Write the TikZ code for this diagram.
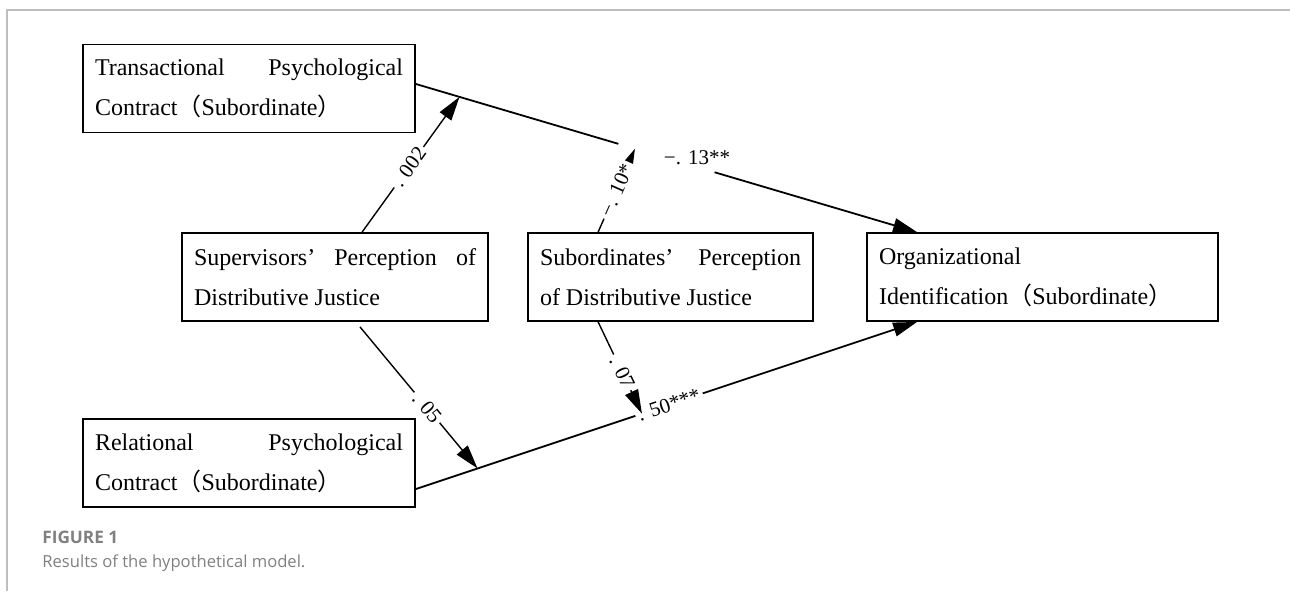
\documentclass[tikz,border=0pt]{standalone}
\usepackage{fontspec}
\setmainfont{Liberation Serif}
\newfontfamily\cjk{Noto Sans CJK SC}
\newfontfamily\capfont{Open Sans}
\usetikzlibrary{arrows.meta}
\usetikzlibrary{calc}
\definecolor{framegray}{RGB}{190,190,190}
\definecolor{capgray}{RGB}{128,128,128}
\newcommand{\zlp}{{\cjk （}}
\newcommand{\zrp}{{\cjk ）}}
\tikzset{var/.style = {draw, line width = 0.9pt, text width = #1, align = justify, inner xsep = 6pt, inner ysep = 0, minimum height = 44pt, font = {\fontsize{12}{20}\selectfont\tolerance = 10000\hyphenpenalty = 10000}}}
\tikzset{link/.style = {line width = 0.9pt, -{Triangle[length = 12pt, width = 7pt]}}}
\tikzset{modr/.style = {line width = 0.7pt, -{Triangle[length = 12pt, width = 7pt]}}}
\tikzset{coef/.style = {fill = white, inner sep = 1.5pt, font = \fontsize{10.5}{12}\selectfont}}

\begin{document}
\begin{tikzpicture}[x = 0.5pt, y = -0.5pt]
      \useasboundingbox (0, 0) rectangle (1290, 591);
      \draw [framegray, line width = 0.6pt] (7, 591) -- (7, 10) -- (1290, 10);

      \node [var = 154pt] (trans) at (249, 88.5) {Transactional Psychological\linebreak Contract\zlp Subordinate\zrp};
      \node [var = 141pt] (sup) at (335, 277) {Supervisors’ Perception of\linebreak Distributive Justice};
      \node [var = 130.5pt] (sub) at (670.5, 277) {Subordinates’ Perception\linebreak of Distributive Justice};
      \node [var = 163.5pt] (org) at (1042.5, 277) {Organizational\\Identification\zlp Subordinate\zrp};
      \node [var = 154pt] (rel) at (249, 463) {Relational Psychological\linebreak Contract\zlp Subordinate\zrp};

      % main paths
      \coordinate (tA) at ($(trans.east) + (0, -4.5)$);
      \coordinate (tB) at ($(org.north west) + (51, 0)$);
      \coordinate (rA) at ($(rel.east) + (0, 26)$);
      \coordinate (rB) at ($(org.south west) + (51, 0)$);
      \coordinate (gap1) at ($(tA)!0.404!(tB)$);
      \coordinate (gap2) at ($(tA)!0.596!(tB)$);
      \draw [line width = 0.9pt] (tA) -- (gap1);
      \draw [link] (gap2) -- (tB);
      \node [coef] (c13) at (697, 158) {−. 13**};
      \draw [link] (rA) -- node [coef, sloped, pos = 0.505] (c50) {. 50***} (rB);

      % moderating paths
      \coordinate (m002) at ($(tA)!0.087!(tB)$);
      \coordinate (m10) at ($(tA)!0.437!(tB)$);
      \coordinate (m05) at ($(rA)!0.123!(rB)$);
      \coordinate (m07) at ($(rA)!0.451!(rB)$);
      \draw [modr] ($(sup.north west) + (181, 0)$) -- node [coef, sloped, pos = 0.48] (c002) {. 002} (m002);
      \draw [modr] ($(sub.north west) + (71, 0)$) -- node [coef, sloped, pos = 0.5] (c10) {−. 10*} (m10);
      \draw [modr] ($(sup.south) + (25, 5)$) -- node [coef, sloped, pos = 0.57] (c05) {. 05} (m05);
      \draw [modr] ($(sub.south west) + (71, 0)$) -- node [coef, sloped, pos = 0.55] (c07) {. 07} (m07);

      \node [anchor = base west, inner sep = 0, text = capgray, font = {\capfont\bfseries\fontsize{8.6}{10}\selectfont}] (fig) at (42, 543) {FIGURE 1};
      \node [anchor = base west, inner sep = 0, text = capgray, font = {\capfont\fontsize{8.3}{10}\selectfont}] (cap) at (42, 567) {Results of the hypothetical model.};
    \end{tikzpicture}
\end{document}
